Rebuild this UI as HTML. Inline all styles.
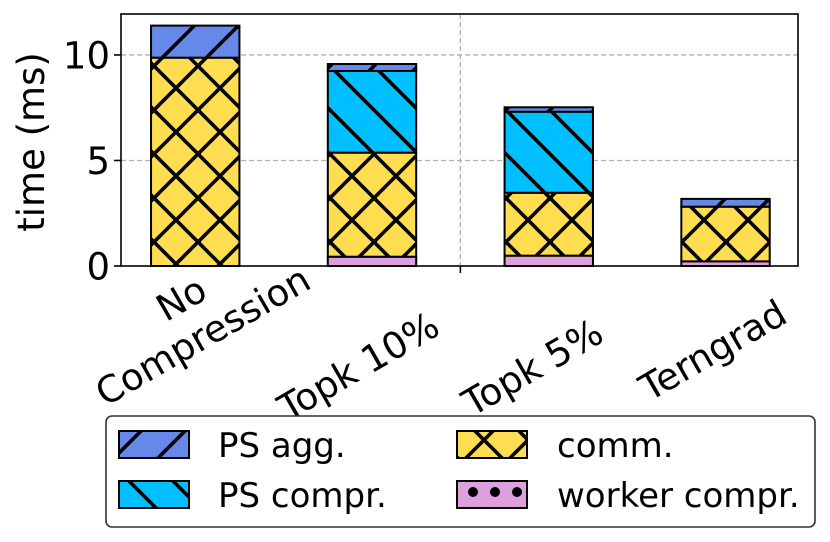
<!DOCTYPE html>
<html><head><meta charset="utf-8"><style>
body{margin:0;background:#fff;}
svg{display:block;font-family:"DejaVu Sans","Liberation Sans",sans-serif;}
</style></head><body>
<svg id="chart" width="830" height="542" viewBox="0 0 830 542">
<defs>
<pattern id="h-agg" patternUnits="userSpaceOnUse" width="44" height="44">
<rect width="44" height="44" fill="#6688e8"/>
<path d="M-11,11 L11,-11 M0,44 L44,0 M33,55 L55,33" stroke="#000" stroke-width="3.6"/>
</pattern>
<pattern id="h-pscomp" patternUnits="userSpaceOnUse" width="44" height="44">
<rect width="44" height="44" fill="#00bfff"/>
<path d="M-11,33 L11,55 M0,0 L44,44 M33,-11 L55,11" stroke="#000" stroke-width="3.6"/>
</pattern>
<pattern id="h-comm" patternUnits="userSpaceOnUse" width="44" height="44">
<rect width="44" height="44" fill="#fedd50"/>
<path d="M-11,11 L11,-11 M0,44 L44,0 M33,55 L55,33 M-11,33 L11,55 M0,0 L44,44 M33,-11 L55,11" stroke="#000" stroke-width="3.6"/>
</pattern>
<pattern id="h-worker" patternUnits="userSpaceOnUse" width="22" height="22">
<rect width="22" height="22" fill="#dda0dd"/>
<circle cx="11" cy="8" r="5" fill="#000"/>
</pattern>
</defs>
<g id="grid"></g>
<g id="bars"></g>
<rect x="121" y="14" width="677" height="252" fill="none" stroke="#000" stroke-width="1.6"/>
<g id="axes"></g>
<text x="0" y="0" transform="translate(44,142) rotate(-90)" text-anchor="middle" font-size="37">time (ms)</text>
<g>
<rect x="106" y="416" width="709" height="111" rx="6" fill="#fff" stroke="#333" stroke-width="1.6"/>
<g>
<rect x="119" y="431" width="70" height="27" fill="url(#h-agg)" stroke="#000" stroke-width="2"/>
<text x="218" y="457" font-size="34">PS agg.</text></g>
<g>
<rect x="119" y="481" width="70" height="27" fill="url(#h-pscomp)" stroke="#000" stroke-width="2"/>
<text x="218" y="507" font-size="34">PS compr.</text></g>
<g>
<rect x="457" y="431" width="70" height="27" fill="url(#h-comm)" stroke="#000" stroke-width="2"/>
<text x="557" y="457" font-size="34">comm.</text></g>
<g>
<rect x="457" y="481" width="70" height="27" fill="url(#h-worker)" stroke="#000" stroke-width="2"/>
<text x="557" y="507" font-size="34">worker compr.</text></g>
</g>
</svg>
<script>
const categories = ["No\nCompression", "Topk 10%", "Topk 5%", "Terngrad"];
const workerCompr = [0, 0.44, 0.49, 0.22];
const comm = [9.87, 4.93, 2.98, 2.59];
const psCompr = [0, 3.87, 3.84, 0];
const psAgg = [1.52, 0.33, 0.21, 0.37];
const yTicks = [0, 5, 10];
const yTickLabels = ["0", "5", "10"];

const NS = "http://www.w3.org/2000/svg";
const X0 = 121, X1 = 798, Y0 = 266, Y1 = 14;
const xMin = -0.42, xMax = 3.41, yMin = 0, yMax = 11.94;
function xs(v){ return X0 + (v - xMin) / (xMax - xMin) * (X1 - X0); }
function ys(v){ return Y0 - (v - yMin) / (yMax - yMin) * (Y0 - Y1); }
function mk(tag, attrs, parent){ const e = document.createElementNS(NS, tag); for (const k in attrs) e.setAttribute(k, attrs[k]); parent.appendChild(e); return e; }

const grid = document.getElementById('grid');
const axes = document.getElementById('axes');
const bars = document.getElementById('bars');

yTicks.forEach((t, i) => {
  if (t > 0) {
    const g = mk('line', {x1: X0, x2: X1, y1: ys(t), y2: ys(t), stroke: '#b0b0b0', 'stroke-width': 1.3, 'stroke-dasharray': '5,3'}, grid);
    
    
  }
  const tk = mk('line', {x1: X0 - 7, x2: X0, y1: ys(t), y2: ys(t), stroke: '#000', 'stroke-width': 1.6}, axes);
  
  
  const lb = mk('text', {x: 110, y: ys(t) + 13.5, 'text-anchor': 'end', 'font-size': 37}, axes);
  lb.textContent = yTickLabels[i];
  
  
});
const vg = mk('line', {x1: xs(1.5), x2: xs(1.5), y1: Y1, y2: Y0, stroke: '#b0b0b0', 'stroke-width': 1.3, 'stroke-dasharray': '5,3'}, grid);


const xt = mk('line', {x1: xs(1.5), x2: xs(1.5), y1: Y0, y2: Y0 + 7, stroke: '#000', 'stroke-width': 1.6}, axes);



const series = [
  {vals: workerCompr, fill: 'url(#h-worker)', name: 'worker-compr'},
  {vals: comm, fill: 'url(#h-comm)', name: 'comm'},
  {vals: psCompr, fill: 'url(#h-pscomp)', name: 'ps-compr'},
  {vals: psAgg, fill: 'url(#h-agg)', name: 'ps-agg'}
];
const bw = 0.5;
const labelDx = [14, 70, 57, 64];
const labelY = [347, 333, 340, 321];
const labelAnchor = ['middle', 'end', 'end', 'end'];
categories.forEach((c, i) => {
  let base = 0;
  series.forEach(s => {
    const v = s.vals[i];
    if (v > 0) {
      const r = mk('rect', {x: xs(i - bw/2), y: ys(base + v), width: xs(i + bw/2) - xs(i - bw/2), height: ys(base) - ys(base + v), fill: s.fill, stroke: '#000', 'stroke-width': 2}, bars);
      
      
    }
    base += v;
  });
  const ax = xs(i) + labelDx[i], ay = labelY[i];
  const t = mk('text', {transform: 'translate(' + ax + ',' + ay + ') rotate(-30)', 'text-anchor': labelAnchor[i], 'font-size': 37}, axes);
  
  
  const lines = c.split('\n');
  lines.forEach((ln, j) => {
    const sp = mk('tspan', {x: 0, y: (j - (lines.length - 1)) * 43}, t);
    sp.textContent = ln;
  });
});
</script>
</body></html>
